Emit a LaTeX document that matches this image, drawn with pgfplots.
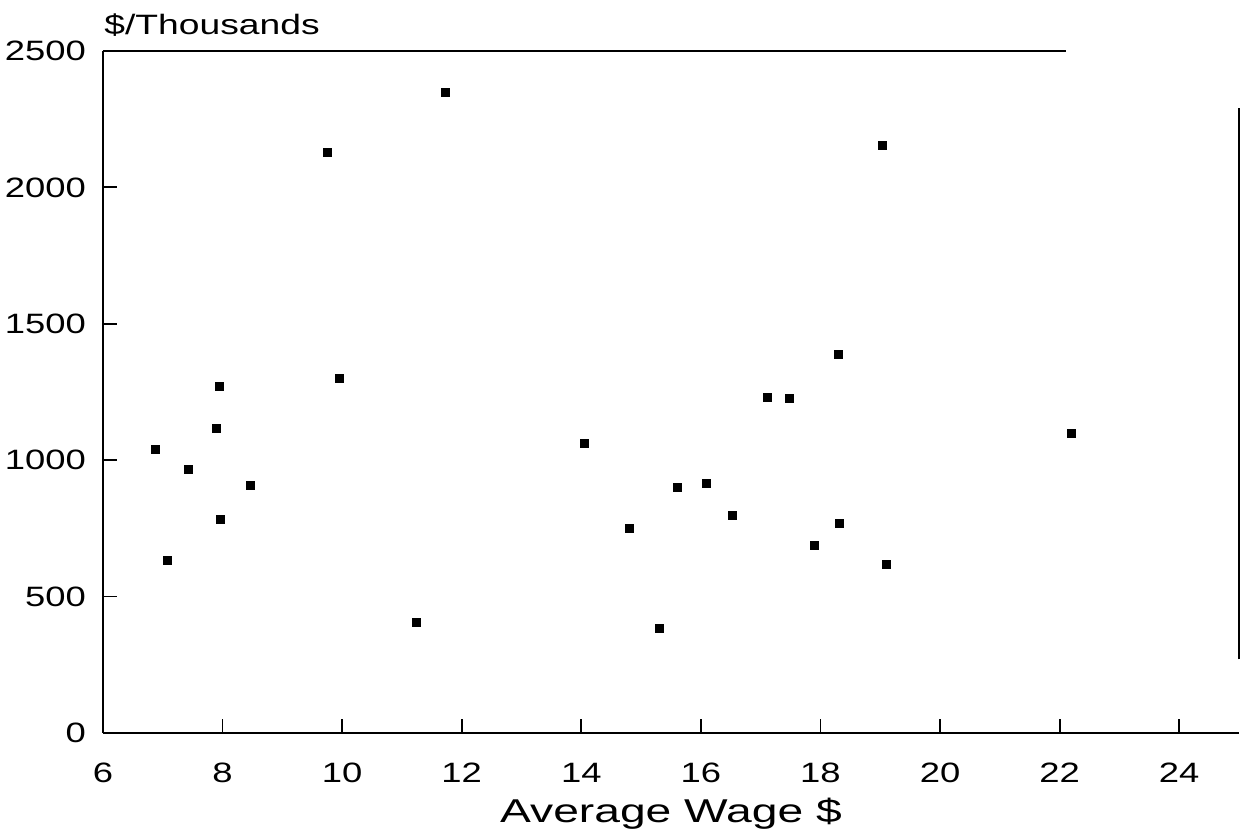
\documentclass[border=0pt]{standalone}
\usepackage{fontspec}
\setmainfont{Liberation Sans}
\newfontfamily\tickfont[FakeStretch=1.3]{Liberation Sans}
\newfontfamily\ylabfont[FakeStretch=1.33]{Liberation Sans}
\newfontfamily\xlabfont[FakeStretch=1.4]{Liberation Sans}
\usepackage{pgfplots}
\pgfplotsset{compat=1.18}
\begin{document}
\begin{tikzpicture}
\useasboundingbox (-51.5pt,-53pt) rectangle (569pt,366.5pt);
\begin{axis}[
  at={(0,0)}, anchor=south west,
  scale only axis,
  width=568pt, height=341pt,
  xmin=6, xmax=25, ymin=0, ymax=2500,
  axis x line*=bottom, axis y line*=left,
  axis line style={line width=0.9pt, black},
  xtick={6,8,...,24}, ytick={0,500,...,2500},
  tick align=inside, tick pos=left,
  major tick length=7pt,
  tick style={line width=0.9pt, black},
  /pgf/number format/assume math mode=true,
  /pgf/number format/1000 sep={},
  tick label style={font=\tickfont\fontsize{14}{16}\selectfont},
  xticklabel style={anchor=center, yshift=-19.75pt},
  yticklabel style={anchor=east, xshift=-5pt},
  clip=false,
]
\addplot[only marks, mark=square*, mark size=2pt, black] coordinates {
(6.87,1038) (7.08,633) (7.42,967) (7.89,1115) (7.95,1270) (7.97,784)
(8.47,908) (9.76,2127) (9.95,1301) (11.24,407) (11.73,2349)
(14.05,1060) (14.81,751) (15.31,383) (15.60,899) (16.09,914)
(16.53,797) (17.11,1231) (17.48,1225) (17.90,688) (18.30,1387)
(18.32,767) (19.04,2154) (19.11,617) (22.19,1097)
};
\draw[line width=0.9pt] (axis cs:6,2500) -- (axis cs:22.1,2500);
\draw[line width=0.9pt] (axis cs:25,270) -- (axis cs:25,2290);
\node[anchor=base, font=\xlabfont\fontsize{16.5}{18}\selectfont] at (axis description cs:0.5,0) [yshift=-45pt] {Average Wage \$};
\node[anchor=base west, font=\ylabfont\fontsize{14}{16}\selectfont, inner sep=0pt] at (axis description cs:0,0) [yshift=349pt, xshift=0.5pt] {\$/Thousands};
\end{axis}
\end{tikzpicture}
\end{document}
